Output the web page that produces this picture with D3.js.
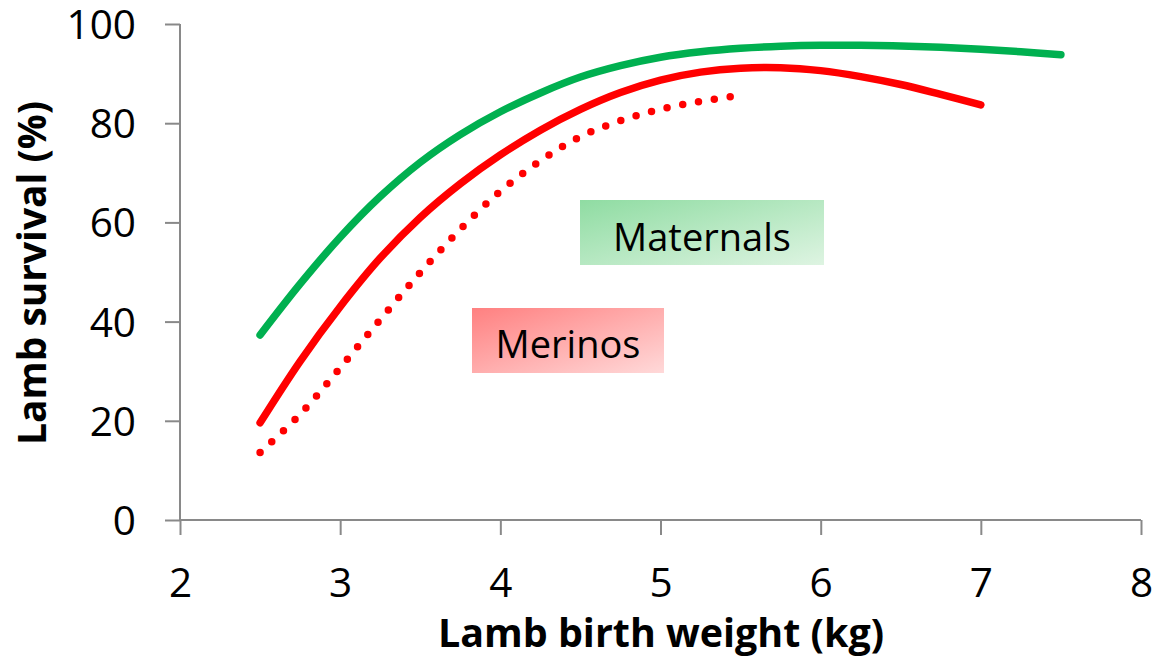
<!DOCTYPE html>
<html>
<head>
<meta charset="utf-8">
<script src="https://cdn.jsdelivr.net/npm/d3@7"></script>
<style>
  html, body { margin: 0; padding: 0; background: #fff; }
  svg { display: block; }
  text { font-family: "Open Sans", "Noto Sans", sans-serif; fill: #000; }
</style>
</head>
<body>
<svg id="chart" width="1155" height="657"></svg>
<script>
// ---- data ----
const weights = [2.5, 2.75, 3.0, 3.25, 3.5, 3.75, 4.0, 4.25, 4.5, 4.75, 5.0, 5.25, 5.5, 5.75, 6.0, 6.25, 6.5, 6.75, 7.0, 7.25, 7.5];
const maternals = [37.3, 47.6, 57.0, 65.2, 72.1, 77.7, 82.3, 86.1, 89.3, 91.6, 93.3, 94.4, 95.1, 95.5, 95.7, 95.7, 95.55, 95.3, 94.9, 94.4, 93.8];
const merinoWeights = [2.5, 2.75, 3.0, 3.25, 3.5, 3.75, 4.0, 4.25, 4.5, 4.75, 5.0, 5.25, 5.5, 5.75, 6.0, 6.25, 6.5, 6.75, 7.0];
const merinos = [19.6, 32.0, 43.0, 52.8, 61.0, 67.8, 73.6, 78.6, 82.8, 86.2, 88.7, 90.3, 91.1, 91.2, 90.6, 89.4, 87.8, 85.8, 83.7];
const merinoDotWeights = [2.5, 2.75, 3.0, 3.25, 3.5, 3.75, 4.0, 4.25, 4.5, 4.75, 5.0, 5.25, 5.5];
const merinosDotted = [13.6, 21.3, 30.7, 40.4, 49.9, 58.6, 66.3, 72.4, 77.3, 80.5, 82.8, 84.4, 85.6];
const xTicks = [2, 3, 4, 5, 6, 7, 8];
const yTicks = [0, 20, 40, 60, 80, 100];
const xTitle = "Lamb birth weight (kg)";
const yTitle = "Lamb survival (%)";
const labelMaternals = "Maternals";
const labelMerinos = "Merinos";

// ---- layout ----
const svg = d3.select("#chart");
const x = d3.scaleLinear().domain([2, 8]).range([180, 1141]);
const y = d3.scaleLinear().domain([0, 100]).range([520, 24]);
const axisColor = "#898989";

// gradients
const defs = svg.append("defs");
function grad(id, c1, c2) {
  const g = defs.append("linearGradient").attr("id", id)
    .attr("x1", "0%").attr("y1", "0%").attr("x2", "100%").attr("y2", "100%");
  g.append("stop").attr("offset", "0%").attr("stop-color", c1);
  g.append("stop").attr("offset", "100%").attr("stop-color", c2);
}
grad("gMat", "#8fdca2", "#def4e2");
grad("gMer", "#ff8080", "#ffd9d9");

// axes
const yAxis = d3.axisLeft(y).tickValues(yTicks).tickFormat(d3.format("d"))
  .tickSize(15).tickSizeOuter(0).tickPadding(29);
const gy = svg.append("g").attr("transform", "translate(180,0)").call(yAxis);
gy.selectAll("path, line").attr("stroke", axisColor).attr("stroke-width", 2);
gy.selectAll("text").attr("font-size", 40.5).attr("dy", "0.357em")
  .style("font-family", "'Open Sans', sans-serif").attr("fill", "#000");

const xAxis = d3.axisBottom(x).tickValues(xTicks).tickFormat(d3.format("d"))
  .tickSize(15).tickSizeOuter(0);
const gx = svg.append("g").attr("transform", "translate(0,520)").call(xAxis);
gx.selectAll("path, line").attr("stroke", axisColor).attr("stroke-width", 2);
gx.selectAll("text").attr("font-size", 40.5).attr("y", 76.5).attr("dy", null)
  .style("font-family", "'Open Sans', sans-serif").attr("fill", "#000");
gy.select(".domain").attr("d", "M0,520V24");
gx.select(".domain").attr("d", "M180,0H1141");

// titles
svg.append("text").attr("x", 661).attr("y", 647).attr("text-anchor", "middle")
  .attr("font-size", 40).attr("font-weight", "bold")
  .attr("textLength", 446).attr("lengthAdjust", "spacingAndGlyphs").text(xTitle);
svg.append("text").attr("transform", "translate(46,273) rotate(-90)").attr("text-anchor", "middle")
  .attr("font-size", 40).attr("font-weight", "bold")
  .attr("textLength", 344).attr("lengthAdjust", "spacingAndGlyphs").text(yTitle);

// lines
const line = (xs) => d3.line().x((d, i) => x(xs[i])).y(d => y(d)).curve(d3.curveCatmullRom.alpha(0.5));
svg.append("path").datum(merinosDotted).attr("d", line(merinoDotWeights))
  .attr("fill", "none").attr("stroke", "#ff0000").attr("stroke-width", 7.5)
  .attr("stroke-linecap", "round").attr("stroke-dasharray", "0 16");
svg.append("path").datum(merinos).attr("d", line(merinoWeights))
  .attr("fill", "none").attr("stroke", "#ff0000").attr("stroke-width", 7.5)
  .attr("stroke-linecap", "round");
svg.append("path").datum(maternals).attr("d", line(weights))
  .attr("fill", "none").attr("stroke", "#00b050").attr("stroke-width", 7.5)
  .attr("stroke-linecap", "round");

// labels
svg.append("rect").attr("x", 580).attr("y", 200).attr("width", 244).attr("height", 65).attr("fill", "url(#gMat)");
svg.append("text").attr("x", 702).attr("y", 251).attr("text-anchor", "middle").attr("font-size", 38)
  .text(labelMaternals);
svg.append("rect").attr("x", 472).attr("y", 308).attr("width", 192).attr("height", 65).attr("fill", "url(#gMer)");
svg.append("text").attr("x", 568).attr("y", 358).attr("text-anchor", "middle").attr("font-size", 38)
  .text(labelMerinos);
</script>
</body>
</html>
